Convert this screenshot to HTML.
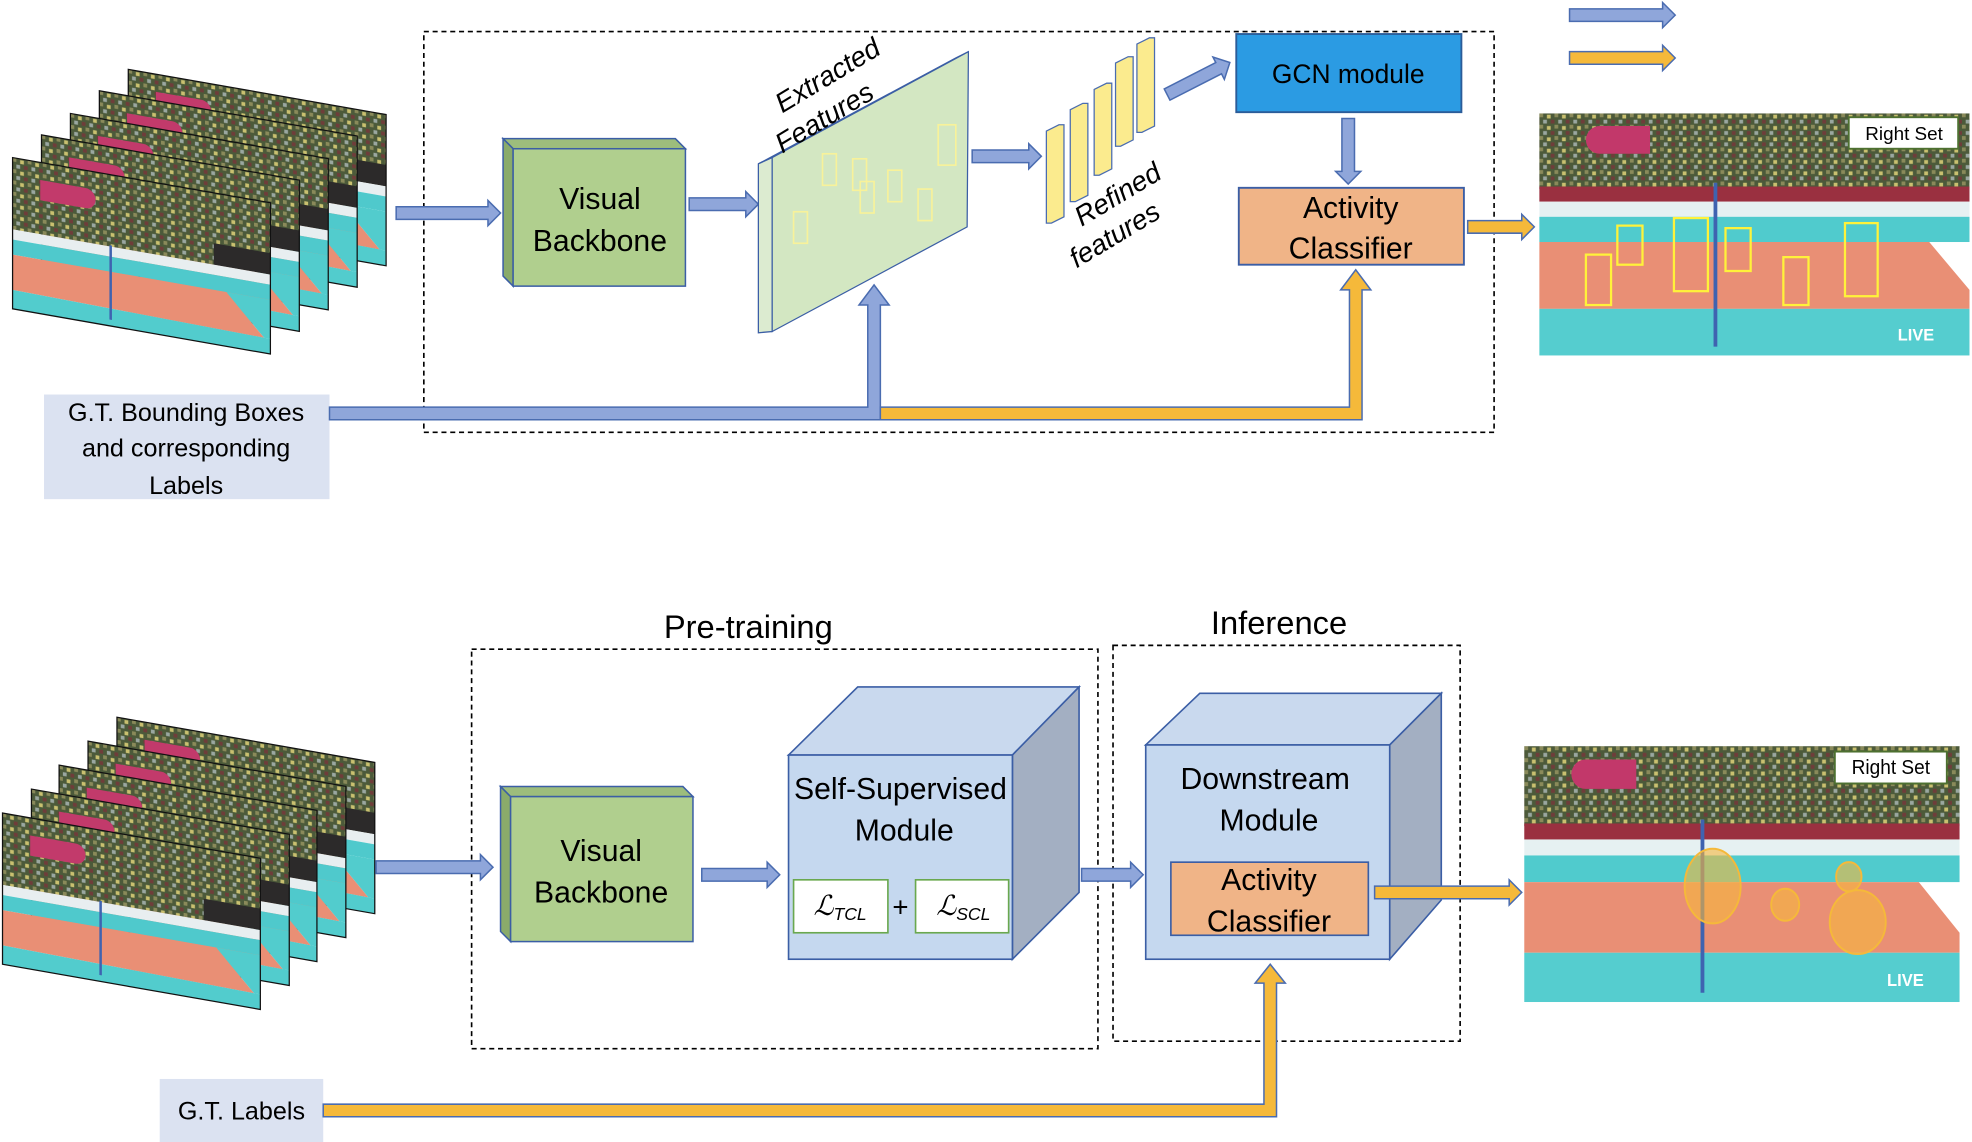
<!DOCTYPE html>
<html><head><meta charset="utf-8"><style>
html,body{margin:0;padding:0;background:#fff;}
svg{display:block;}
text{font-family:"Liberation Sans",sans-serif;fill:#000;}
</style></head><body>
<svg width="1972" height="1142" viewBox="0 0 1568 906" preserveAspectRatio="none" xmlns="http://www.w3.org/2000/svg">
<defs>
<pattern id="crowd" width="12" height="9" patternUnits="userSpaceOnUse">
 <rect width="12" height="9" fill="#4c5a3a"/>
 <rect x="0" y="0" width="3" height="3" fill="#8a8a5a"/>
 <rect x="6" y="1" width="3" height="3" fill="#c9c070"/>
 <rect x="3" y="5" width="3" height="3" fill="#9aa7a0"/>
 <rect x="9" y="5" width="3" height="3" fill="#6f3d3a"/>
</pattern>
<g id="frm">
 <rect x="0" y="0" width="205" height="57" fill="url(#crowd)"/>
 <rect x="160" y="40" width="45" height="17" fill="#2c2a2a"/>
 <path d="M22,14 h36 a8,8 0 0 1 0,16 h-36 z" fill="#c23a6b"/>
 <rect x="0" y="57" width="205" height="8" fill="#e8eef0"/>
 <rect x="0" y="65" width="205" height="12" fill="#4fc9cc"/>
 <polygon points="0,77 170,77 200,108 0,105" fill="#e98f75"/>
 <polygon points="0,105 205,108 205,120 0,120" fill="#52cccd"/>
 <polygon points="170,77 205,77 205,108 200,108" fill="#52cccd"/>
 <line x1="78" y1="56" x2="78" y2="115" stroke="#3f63b0" stroke-width="2"/>
 <rect x="0" y="0" width="205" height="120" fill="none" stroke="#111" stroke-width="1"/>
</g>
<g id="img">
 <rect x="0" y="0" width="342" height="60" fill="url(#crowd)"/>
 <rect x="0" y="58" width="342" height="12" fill="#9a3040"/>
 <rect x="0" y="70" width="342" height="12" fill="#e6f1f2"/>
 <rect x="0" y="82" width="342" height="20" fill="#50cbcd"/>
 <polygon points="0,102 310,102 342,140 342,155 0,155" fill="#e98f75"/>
 <rect x="0" y="155" width="342" height="37" fill="#55cdcf"/>
 <line x1="140" y1="55" x2="140" y2="185" stroke="#3f63b0" stroke-width="3"/>
 <path d="M48,10 h40 v22 h-40 a11,11 0 0 1 0,-22 z" fill="#c2386a"/>
 <text x="285" y="180" font-size="13" font-weight="bold" style="fill:#fff">LIVE</text>
</g>
</defs>

<polygon points="1248,7 1322,7 1322,2 1332,12 1322,22 1322,17 1248,17" fill="#8fa6da" stroke="#4a6cb0" stroke-width="1.2"/>
<polygon points="1248,41 1322,41 1322,36 1332,46 1322,56 1322,51 1248,51" fill="#f5b93a" stroke="#4a6cb0" stroke-width="1.2"/>

<use href="#frm" transform="matrix(1,0.175,0,1,102,55)"/>
<use href="#frm" transform="matrix(1,0.175,0,1,79,72)"/>
<use href="#frm" transform="matrix(1,0.175,0,1,56,90)"/>
<use href="#frm" transform="matrix(1,0.175,0,1,33,107)"/>
<use href="#frm" transform="matrix(1,0.175,0,1,10,125)"/>

<rect x="337" y="25" width="851" height="318" fill="none" stroke="#000" stroke-width="1.3" stroke-dasharray="4,3"/>

<polygon points="315,164 388,164 388,159 398,169 388,179 388,174 315,174" fill="#8fa6da" stroke="#4a6cb0" stroke-width="1.2"/>

<polygon points="400,110 537,110 545,118 408,118" fill="#9dbd7c" stroke="#3b5ea5" stroke-width="1.2"/>
<polygon points="400,110 408,118 408,227 400,219" fill="#8aab6a" stroke="#3b5ea5" stroke-width="1.2"/>
<rect x="408" y="118" width="137" height="109" fill="#b0cf8e" stroke="#3b5ea5" stroke-width="1.2"/>
<text x="477" y="166" font-size="24" text-anchor="middle">Visual</text>
<text x="477" y="199" font-size="24" text-anchor="middle">Backbone</text>

<polygon points="548,157 593,157 593,152 603,162 593,172 593,167 548,167" fill="#8fa6da" stroke="#4a6cb0" stroke-width="1.2"/>

<polygon points="603,130 614,125 770,41 760,46" fill="#a7b98f" stroke="#3b5ea5" stroke-width="1"/>
<polygon points="603,130 614,125 614,263 603,264" fill="#dcebd0" stroke="#3b5ea5" stroke-width="1"/>
<polygon points="614,125 770,41 769,180 614,263" fill="#d3e7c2" stroke="#3b5ea5" stroke-width="1"/>
<g fill="none" stroke="#f8f29a" stroke-width="1.3">
<rect x="631" y="168" width="11" height="25"/><rect x="654" y="122" width="11" height="25"/>
<rect x="678" y="126" width="11" height="25"/><rect x="684" y="144" width="11" height="25"/>
<rect x="706" y="135" width="11" height="25"/><rect x="730" y="150" width="11" height="25"/>
<rect x="746" y="99" width="14" height="32"/>
</g>
<text font-size="22" font-style="italic" transform="translate(622,90) rotate(-31)">Extracted</text>
<text font-size="22" font-style="italic" transform="translate(622,122) rotate(-31)">Features</text>

<polygon points="773,119 818,119 818,114 828,124 818,134 818,129 773,129" fill="#8fa6da" stroke="#4a6cb0" stroke-width="1.2"/>

<g fill="#fbeb8e" stroke="#4a6cb0" stroke-width="1">
<polygon points="832,104 842,99 846,99 846,172 836,177 832,177" />
<polygon points="851,87 861,82 865,82 865,155 855,160 851,160"/>
<polygon points="870,71 880,66 884,66 884,134 874,139 870,139"/>
<polygon points="887,86 887,50 897,45 901,45 901,111 891,116 887,116"/>
<polygon points="904,35 914,30 918,30 918,100 908,105 904,105"/>
</g>
<text font-size="22" font-style="italic" transform="translate(860,180) rotate(-31)">Refined</text>
<text font-size="22" font-style="italic" transform="translate(856,213) rotate(-31)">features</text>

<g transform="translate(928,75) rotate(-27)"><polygon points="0,-5 46,-5 46,-10 56,0 46,10 46,5 0,5" fill="#8fa6da" stroke="#4a6cb0" stroke-width="1.2"/></g>

<rect x="983" y="27" width="179" height="62" fill="#2b9be3" stroke="#2b5c99" stroke-width="1.5"/>
<text x="1072" y="66" font-size="21" text-anchor="middle">GCN module</text>

<polygon points="1067,94 1067,136 1062,136 1072,146 1082,136 1077,136 1077,94" fill="#8fa6da" stroke="#4a6cb0" stroke-width="1.2"/>

<rect x="985" y="149" width="179" height="61" fill="#f0b487" stroke="#3b5ea5" stroke-width="1.5"/>
<text x="1074" y="173" font-size="24" text-anchor="middle">Activity</text>
<text x="1074" y="205" font-size="24" text-anchor="middle">Classifier</text>

<polygon points="1167,175 1210,175 1210,170 1220,180 1210,190 1210,185 1167,185" fill="#f5b93a" stroke="#4a6cb0" stroke-width="1.2"/>

<g transform="translate(1224,90)"><use href="#img"/>
<g fill="none" stroke="#fff23a" stroke-width="1.8">
<rect x="37" y="112" width="20" height="40"/><rect x="62" y="89" width="20" height="31"/>
<rect x="107" y="83" width="27" height="58"/><rect x="148" y="91" width="20" height="34"/>
<rect x="194" y="114" width="20" height="38"/><rect x="243" y="87" width="26" height="58"/>
</g>
<rect x="246" y="3" width="87" height="25" fill="#fff" stroke="#4d7030" stroke-width="1.5"/>
<text x="290" y="21" font-size="15" text-anchor="middle">Right Set</text>
</g>

<rect x="35" y="313" width="227" height="83" fill="#dbe2f1"/>
<text x="148" y="334" font-size="20" text-anchor="middle">G.T. Bounding Boxes</text>
<text x="148" y="362" font-size="20" text-anchor="middle">and corresponding</text>
<text x="148" y="392" font-size="20" text-anchor="middle">Labels</text>

<polygon points="262,323 690,323 690,242 683,242 695,226 707,242 700,242 700,333 262,333" fill="#8fa6da" stroke="#4a6cb0" stroke-width="1.2"/>
<polygon points="700,323 1073,323 1073,230 1066,230 1078,214 1090,230 1083,230 1083,333 700,333" fill="#f5b93a" stroke="#4a6cb0" stroke-width="1.2"/>

<use href="#frm" transform="matrix(1,0.175,0,1,93,569)"/>
<use href="#frm" transform="matrix(1,0.175,0,1,70,588)"/>
<use href="#frm" transform="matrix(1,0.175,0,1,47,607)"/>
<use href="#frm" transform="matrix(1,0.175,0,1,25,626)"/>
<use href="#frm" transform="matrix(1,0.175,0,1,2,645)"/>

<text x="595" y="506" font-size="26" text-anchor="middle">Pre-training</text>
<text x="1017" y="503" font-size="26" text-anchor="middle">Inference</text>
<rect x="375" y="515" width="498" height="317" fill="none" stroke="#000" stroke-width="1.3" stroke-dasharray="4,3"/>
<rect x="885" y="512" width="276" height="314" fill="none" stroke="#000" stroke-width="1.3" stroke-dasharray="4,3"/>

<polygon points="299,683 382,683 382,678 392,688 382,698 382,693 299,693" fill="#8fa6da" stroke="#4a6cb0" stroke-width="1.2"/>

<polygon points="398,624 543,624 551,632 406,632" fill="#9dbd7c" stroke="#3b5ea5" stroke-width="1.2"/>
<polygon points="398,624 406,632 406,747 398,739" fill="#8aab6a" stroke="#3b5ea5" stroke-width="1.2"/>
<rect x="406" y="632" width="145" height="115" fill="#b0cf8e" stroke="#3b5ea5" stroke-width="1.2"/>
<text x="478" y="683" font-size="24" text-anchor="middle">Visual</text>
<text x="478" y="716" font-size="24" text-anchor="middle">Backbone</text>

<polygon points="558,689 610,689 610,684 620,694 610,704 610,699 558,699" fill="#8fa6da" stroke="#4a6cb0" stroke-width="1.2"/>

<polygon points="627,599 682,545 858,545 805,599" fill="#c9d9ee" stroke="#3b5ea5" stroke-width="1.3"/>
<polygon points="805,599 858,545 858,708 805,761" fill="#a3afc2" stroke="#3b5ea5" stroke-width="1.3"/>
<rect x="627" y="599" width="178" height="162" fill="#c5d8ef" stroke="#3b5ea5" stroke-width="1.3"/>
<text x="716" y="634" font-size="24" text-anchor="middle">Self-Supervised</text>
<text x="719" y="667" font-size="24" text-anchor="middle">Module</text>
<rect x="631" y="698" width="75" height="42" fill="#fff" stroke="#6aa84f" stroke-width="1.3"/>
<rect x="728" y="698" width="74" height="42" fill="#fff" stroke="#6aa84f" stroke-width="1.3"/>
<text x="668" y="726" font-size="22" font-style="italic" text-anchor="middle" font-family="Liberation Serif, serif">ℒ<tspan font-size="14" dy="4">TCL</tspan></text>
<text x="716" y="727" font-size="22" text-anchor="middle">+</text>
<text x="766" y="726" font-size="22" font-style="italic" text-anchor="middle" font-family="Liberation Serif, serif">ℒ<tspan font-size="14" dy="4">SCL</tspan></text>

<polygon points="860,689 899,689 899,684 909,694 899,704 899,699 860,699" fill="#8fa6da" stroke="#4a6cb0" stroke-width="1.2"/>

<polygon points="911,591 954,550 1146,550 1105,591" fill="#c9d9ee" stroke="#3b5ea5" stroke-width="1.3"/>
<polygon points="1105,591 1146,550 1146,714 1105,761" fill="#a3afc2" stroke="#3b5ea5" stroke-width="1.3"/>
<rect x="911" y="591" width="194" height="170" fill="#c5d8ef" stroke="#3b5ea5" stroke-width="1.3"/>
<text x="1006" y="626" font-size="24" text-anchor="middle">Downstream</text>
<text x="1009" y="659" font-size="24" text-anchor="middle">Module</text>
<rect x="931" y="684" width="157" height="58" fill="#f0b487" stroke="#3b5ea5" stroke-width="1.3"/>
<text x="1009" y="706" font-size="24" text-anchor="middle">Activity</text>
<text x="1009" y="739" font-size="24" text-anchor="middle">Classifier</text>

<polygon points="1093,703 1200,703 1200,698 1210,708 1200,718 1200,713 1093,713" fill="#f5b93a" stroke="#4a6cb0" stroke-width="1.2"/>

<g transform="translate(1212,592) scale(1.012,1.057)"><use href="#img"/>
<g fill="#f6b73c" fill-opacity="0.6" stroke="#f5b93a" stroke-width="1.5">
<ellipse cx="148" cy="105" rx="22" ry="28"/><ellipse cx="205" cy="119" rx="11" ry="12"/>
<ellipse cx="255" cy="98" rx="10" ry="11"/><ellipse cx="262" cy="132" rx="22" ry="24"/>
</g>
<rect x="244" y="4" width="88" height="24" fill="#fff" stroke="#4d7030" stroke-width="1.5"/>
<text x="288" y="21" font-size="15" text-anchor="middle">Right Set</text>
</g>

<rect x="127" y="856" width="130" height="50" fill="#dbe2f1"/>
<text x="192" y="888" font-size="20" text-anchor="middle">G.T. Labels</text>
<polygon points="257,876 1005,876 1005,780 998,780 1010,765 1022,780 1015,780 1015,886 257,886" fill="#f5b93a" stroke="#4a6cb0" stroke-width="1.2"/>
</svg>
</body></html>
